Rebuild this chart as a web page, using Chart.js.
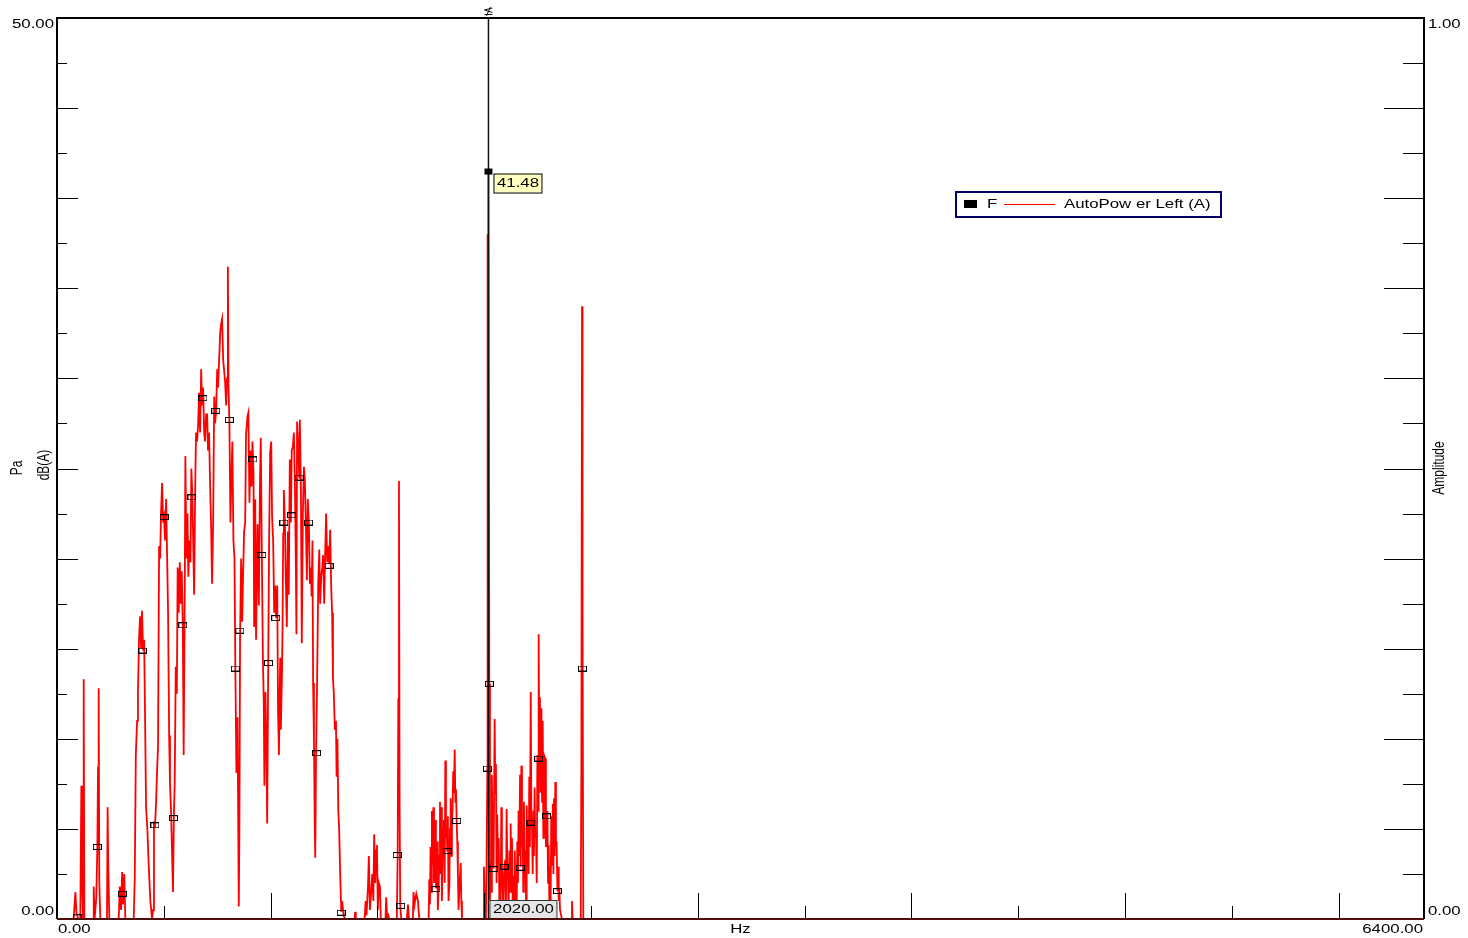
<!doctype html>
<html lang="en">
<head>
<meta charset="UTF-8">
<title>AutoPower Left (A)</title>
<script src="https://cdn.jsdelivr.net/npm/chart.js"></script>
<style>
html,body{margin:0;padding:0;background:#fff;}
#wrap{width:1468px;height:938px;position:relative;}
</style>
</head>
<body>
<div id="wrap"><canvas id="chart"></canvas></div>
<script>
/* ---------- data (Hz / dB(A)) ---------- */
const freqLow = [0,78,86,91,94,100,109,114,117,122,125,128,169,172,176,184,189,192,195,198,
  203,234,237,240,245,289,294,300,305,309,315,320,359,364,369,375,379,384,389,394,
  398,403,408,412,417,423,429,437,445,450,454,459,464,469,473,478,483,487,492,497,
  501,506,511,515,520,525,529,534,539,543,547,551,556,561,565,570,575,579,584,589,
  593,598,601,606,611,615,620,625,629,634,639,642,647,651,656,661,665,670,675,679,
  684,689,693,698,703,707,712,717,722,726,731,736,740,745,750,754,759,764,768,773,
  778,782,787,792,796,800,803,807,812,817,821,826,831,835,840,845,848,851,854,857,
  862,867,871,876,881,885];
const dbLow = [0,0,1.5,0.4,0.2,0,0,7.4,2,0,13.3,0,0,1.8,0,1.2,4.0,8.4,12.8,2,
  0,0,6.2,3,0,0,1.8,0.5,2.6,0.8,2.5,0,0,2.2,9.1,11,12.5,15.5,16.8,15.0,
  17.1,14.9,15.5,11.5,6.2,5.0,3.1,1,0,0.5,5.3,5.2,6.5,8.4,9.5,20.7,20.0,22.5,24.2,22.0,
  22.3,21.0,23.3,20.5,17.0,10.2,7.5,6.0,3.5,1.5,5.6,7.5,14.0,12.5,19.5,17.0,19.8,17.5,19.3,16.3,
  9.1,18.0,25.7,20.0,22.5,19.0,21.0,19.8,25.0,23.4,20.0,18.0,24.0,27.0,26.5,27.5,29.2,27.0,30.5,28.5,
  29.5,27.0,26.5,28.0,28.0,26.0,27.0,24.0,21.5,18.6,22.0,29.0,27.5,28.2,30.5,29.5,31.0,32.5,33.0,33.3,
  31.0,30.5,29.8,28.5,30.0,36.2,29.5,27.7,22.0,24.7,26.5,21.0,20.0,13.9,8.1,11.2,6.2,0.7,5.0,15.5,
  20.0,16.5,19.0,21.5,22.0,26.9];

const freqMid = [892,896,901,906,911,915,920,923,928,932,939,945,950,954,959,964,968,971,976,981,
  984,989,993,998,1003,1007,1012,1017,1021,1026,1031,1035,1039,1042,1045,1048,1053,1056,1059,1062,
  1067,1071,1076,1081,1085,1090,1095,1099,1104,1109,1114,1118,1121,1124,1129,1134,1137,1142,1146,1151,
  1156,1160,1165,1170,1174,1179,1184,1189,1192,1196,1199,1203,1206,1209,1213,1218,1223,1228,1232,1237,
  1242,1246,1251,1256,1260,1265,1270,1274,1279,1284,1288,1292,1296,1301,1306,1309,1313,1317,1321,1326,
  1331,1335,1342,1349,1393,1396,1399,1440,1445,1449,1456,1460,1465,1471,1476,1481,1485,1490,1494,1498,
  1502,1507,1512,1516,1538,1541,1546,1551,1555,1591,1595,1598,1601,1604,1607,1612,1638,1643,1648,1666,
  1669,1674,1679,1682,1690,1696,1740];
const dbMid = [27.9,28.1,23.1,26.0,24.0,26.5,24.8,16.2,23.3,15.5,21.9,17.4,24.0,26.7,20.2,14.5,12.0,7.4,12.6,9.0,
  5.3,14.2,21.0,25.9,26.5,22.3,21.0,17.0,18.5,16.7,18.5,11.5,9.1,12.0,14.5,10.5,13.5,16.2,21.4,23.8,
  22.0,19.0,16.2,21.5,18.0,25.5,22.0,26.0,26.2,27.0,24.0,20.0,15.8,27.6,26.5,24.5,27.7,23.8,15.3,22.4,
  25.1,24.5,22.0,18.8,23.3,22.0,18.6,19.5,17.9,21.0,13.1,10.0,6.0,3.4,9.2,13.5,18.6,20.5,17.5,19.0,
  19.5,20.2,17.5,20.5,22.5,19.8,20.7,19.7,21.6,18.3,17.0,13.4,12.5,10.5,11.0,7.9,10.0,6.0,5.0,2.4,
  0.4,1.0,0.2,0,0,0.4,0,0,1.0,0.2,1.8,3.5,0.5,1.5,2.5,1.0,4.7,2.0,3.8,4.1,
  0.5,2.0,1.8,0,0,1.2,0,0.2,0,0,3.6,12.2,24.3,6.2,0.7,0,0,0.8,0,0,
  1.5,0.8,1.2,1.4,1.0,0,0];

const freqHigh = [1743,1746,1749,1752,1755,1758,1762,1765,1768,1771,1774,1777,1780,1783,1787,1790,1793,1796,1799,1802,
  1805,1808,1811,1815,1818,1821,1824,1827,1830,1833,1837,1840,1843,1846,1849,1852,1855,1858,1862,1865,
  1868,1871,1874,1877,1880,1885,1890,1893,1896,1996,1999,2002,2005,2008,2011,2015,2016,2018,2020,2024,
  2027,2030,2033,2036,2040,2044,2049,2052,2055,2058,2061,2065,2068,2071,2074,2077,2080,2083,2086,2090,
  2094,2099,2102,2105,2108,2111,2114,2118,2121,2124,2127,2130,2133,2136,2140,2143,2146,2149,2152,2155,
  2158,2161,2164,2168,2171,2174,2177,2180,2183,2186,2190,2193,2196,2199,2202,2205,2208,2211,2214,2218,
  2221,2224,2227,2230,2233,2236,2239,2243,2246,2249,2252,2255,2258,2261,2264,2268,2271,2274,2277,2280,
  2283,2286,2289,2292,2296,2299,2302,2305,2308,2311,2314,2318,2321,2324,2327,2330,2333,2336,2339,2343,
  2346,2349,2352,2355,2358,2364,2408,2411,2414,2452,2455,2458,2460,2461,2464,6400];
const dbHigh = [2.2,0.8,4.0,1.5,6.0,3.0,6.2,2.0,3.8,5.5,1.7,3.0,4.3,0.5,1.9,3.5,6.5,2.5,6.2,1.0,
  3.4,5.0,5.5,2.0,8.8,4.5,5.2,3.8,5.7,1.0,1.9,5.0,6.7,3.5,5.5,6.0,8.2,7.0,9.4,6.5,
  7.2,5.5,4.3,2.5,0.5,2.0,3.1,1.0,0,0,2.9,1.0,1.5,0,3.0,8.4,38.0,20.0,41.48,13.05,
  1.0,3.2,1.5,8.0,4.0,2.8,11.1,7.0,8.6,2.0,5.8,3.0,4.5,1.0,2.4,0.5,6.2,3.0,1.9,0.3,
  2.9,3.3,0.8,6.1,3.0,2.4,0.5,3.8,1.5,5.3,2.2,4.5,1.0,2.4,0.3,3.8,1.5,1.9,0.5,4.3,
  2.0,6.0,3.5,8.0,2.9,8.5,4.0,5.0,1.5,6.5,3.0,3.8,1.0,6.3,4.0,5.5,2.5,7.9,4.0,12.6,
  5.4,5.0,2.5,6.0,3.5,7.3,4.5,4.5,2.0,9.1,6.0,15.8,8.9,12.3,7.0,11.7,6.5,11.0,4.5,6.5,
  9.0,8.9,4.0,5.7,6.0,2.0,4.1,1.0,2.9,0.8,5.7,3.0,6.4,2.5,6.7,3.5,7.6,4.0,4.3,1.55,
  2.9,1.0,1.7,0.5,0.5,0,0,1.0,0,0,8.6,34.0,13.9,16.9,0,0];

// open square markers sitting on the trace
const markerHz = [94,189,306,400,458,501,545,589,632,683,743,807,835,856,917,959,990,1024,1062,1098,
  1134,1178,1215,1274,1331,1593,1609,1774,1827,1871,2015,2024,2044,2094,2169,2219,2255,2292,2343,2460];
const markerDb = [0.1,4.0,1.4,14.9,5.2,22.3,5.6,16.3,23.4,28.9,28.2,27.7,13.9,16.0,25.5,20.2,14.2,16.7,22.0,22.4,
  24.5,22.0,9.2,19.6,0.35,3.55,0.73,1.66,3.77,5.44,8.35,13.05,2.77,2.9,2.85,5.35,8.9,5.7,1.55,13.9];

// cursor
const cursorHz = 2020;
const cursorDb = 41.48;

// axis ticks
const xTicks = [500,1000,1500,2000,2500,3000,3500,4000,4500,5000,5500,6000];
const yTicks = [2.5,5,7.5,10,12.5,15,17.5,20,22.5,25,27.5,30,32.5,35,37.5,40,42.5,45,47.5];
const xRange = [0, 6400];
const yRange = [0, 50];
const y2Range = [0, 1];

const freqHz  = [...freqLow, ...freqMid, ...freqHigh];
const levelDb = [...dbLow, ...dbMid, ...dbHigh];

/* ---------- helpers ---------- */
const FONT = '12px "Liberation Sans", Arial, sans-serif';
function txt(ctx, s, x, y, align, rot){
  ctx.save();
  ctx.translate(x, y);
  if (rot){ ctx.rotate(-Math.PI/2); ctx.scale(1, 1.3); }
  else ctx.scale(1.4, 1);
  ctx.font = FONT;
  ctx.fillStyle = '#000';
  ctx.textAlign = align;
  ctx.textBaseline = 'middle';
  ctx.fillText(s, 0, 0);
  ctx.restore();
}

const markImg = document.createElement('canvas');
markImg.width = 9; markImg.height = 6;
(c => { c.strokeStyle = '#000'; c.lineWidth = 1; c.strokeRect(0.5, 0.5, 8, 5); })(markImg.getContext('2d'));

/* ---------- frame, ticks, cursor, legend ---------- */
const frame = {
  id: 'frame',
  afterDatasetsDraw(chart){
    const {ctx, chartArea:a, scales:{x, y, y2}} = chart;
    ctx.save();

    // cursor line
    const cx = x.getPixelForValue(cursorHz);
    const cy = y.getPixelForValue(cursorDb);
    ctx.strokeStyle = '#111'; ctx.lineWidth = 1.5;
    ctx.beginPath(); ctx.moveTo(cx, a.top); ctx.lineTo(cx, a.bottom); ctx.stroke();
    // cursor handle at top
    ctx.lineWidth = 1;
    ctx.beginPath();
    ctx.moveTo(cx-4, 10); ctx.lineTo(cx+4, 8);
    ctx.moveTo(cx-4, 10); ctx.lineTo(cx+4, 12.5);
    ctx.moveTo(cx-4, 14.5); ctx.lineTo(cx+4, 14.5);
    ctx.moveTo(cx+2, 7); ctx.lineTo(cx-2, 16);
    ctx.stroke();
    ctx.fillStyle = '#000';
    ctx.fillRect(cx-4, cy-3, 8, 6);

    // value label
    ctx.fillStyle = '#ffffc0';
    ctx.fillRect(cx+5, cy+2, 48, 19);
    ctx.strokeStyle = '#000'; ctx.lineWidth = 1;
    ctx.strokeRect(cx+5.5, cy+2.5, 48, 19);
    txt(ctx, cursorDb.toFixed(2), cx+29.5, cy+12, 'center');

    // frequency label
    ctx.fillStyle = '#e6e6e6';
    ctx.fillRect(cx+1, a.bottom-19, 67, 19);
    ctx.strokeStyle = '#333';
    ctx.strokeRect(cx+1.5, a.bottom-18.5, 67, 19);
    txt(ctx, cursorHz.toFixed(2), cx+35, a.bottom-9, 'center');

    // ticks
    ctx.strokeStyle = '#000'; ctx.lineWidth = 1;
    ctx.beginPath();
    yTicks.forEach(v => {
      const py = Math.round(y.getPixelForValue(v)) + 0.5;
      const long = v % 5 === 0;
      ctx.moveTo(a.left, py); ctx.lineTo(a.left + (long ? 21 : 10), py);
      const py2 = Math.round(y2.getPixelForValue(v / 50)) + 0.5;
      ctx.moveTo(a.right, py2); ctx.lineTo(a.right - (long ? 40 : 21), py2);
    });
    xTicks.forEach(v => {
      const px = Math.round(x.getPixelForValue(v)) + 0.5;
      const long = v % 1000 === 0;
      ctx.moveTo(px, a.bottom); ctx.lineTo(px, a.bottom - (long ? 26 : 13));
    });
    ctx.stroke();

    // frame
    ctx.lineWidth = 2;
    ctx.strokeStyle = '#000';
    ctx.beginPath();
    ctx.moveTo(a.left, a.bottom); ctx.lineTo(a.left, a.top); ctx.lineTo(a.right, a.top); ctx.lineTo(a.right, a.bottom);
    ctx.stroke();
    ctx.strokeStyle = '#4d0d0d';
    ctx.beginPath(); ctx.moveTo(a.left, a.bottom); ctx.lineTo(a.right, a.bottom); ctx.stroke();

    // tick labels
    const fmt = v => v.toFixed(2);
    txt(ctx, fmt(yRange[1]), a.left-3, a.top+7, 'right');
    txt(ctx, fmt(yRange[0]), a.left-3, a.bottom-7, 'right');
    txt(ctx, fmt(y2Range[1]), a.right+4, a.top+7, 'left');
    txt(ctx, fmt(y2Range[0]), a.right+4, a.bottom-7, 'left');
    txt(ctx, fmt(xRange[0]), a.left+1, a.bottom+11, 'left');
    txt(ctx, fmt(xRange[1]), a.right-1, a.bottom+11, 'right');
    txt(ctx, 'Hz', (a.left+a.right)/2, a.bottom+11, 'center');

    // axis titles
    txt(ctx, 'Pa', 18, 468, 'center', true);
    txt(ctx, 'dB(A)', 45, 465, 'center', true);
    txt(ctx, 'Amplitude', 1440, 468, 'center', true);

    // legend
    ctx.fillStyle = '#fff';
    ctx.fillRect(956, 192, 265, 25);
    ctx.strokeStyle = '#000066'; ctx.lineWidth = 2;
    ctx.strokeRect(956, 192, 265, 25);
    ctx.fillStyle = '#000';
    ctx.fillRect(964, 200, 13, 8);
    txt(ctx, 'F', 987, 204.5, 'left');
    ctx.strokeStyle = '#ff0000'; ctx.lineWidth = 1;
    ctx.beginPath(); ctx.moveTo(1004, 204.5); ctx.lineTo(1055, 204.5); ctx.stroke();
    txt(ctx, 'AutoPow er Left (A)', 1064, 204.5, 'left');

    ctx.restore();
  }
};

new Chart(document.getElementById('chart'), {
  type: 'line',
  data: {
    datasets: [
      {
        label: 'markers',
        data: markerHz.map((f, i) => ({x: f, y: markerDb[i]})),
        showLine: false,
        pointStyle: markImg,
        pointRadius: 4,
        clip: false
      },
      {
        label: 'AutoPower Left (A)',
        data: freqHz.map((f, i) => ({x: f, y: levelDb[i]})),
        borderColor: '#ff0000',
        borderWidth: 1.8,
        pointRadius: 0,
        tension: 0,
        fill: false
      }
    ]
  },
  options: {
    responsive: true,
    maintainAspectRatio: false,
    animation: false,
    events: [],
    layout: { padding: { left: 57, right: 44, top: 18, bottom: 19 } },
    plugins: { legend: { display: false }, tooltip: { enabled: false } },
    scales: {
      x:  { type: 'linear', min: xRange[0], max: xRange[1], display: false },
      y:  { min: yRange[0], max: yRange[1], display: false },
      y2: { min: y2Range[0], max: y2Range[1], display: false, position: 'right' }
    }
  },
  plugins: [frame]
});
</script>
</body>
</html>
